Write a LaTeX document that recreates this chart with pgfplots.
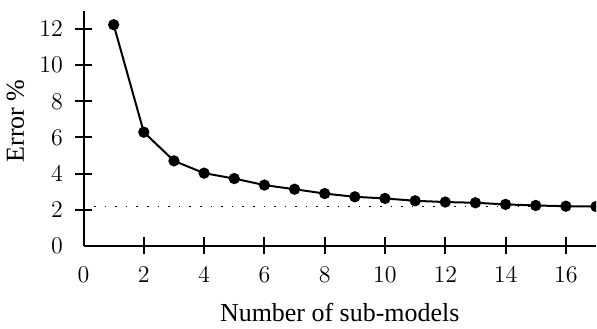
\documentclass[border=0pt]{standalone}
\usepackage{fontspec}
\setmainfont{Liberation Serif}
\usepackage{pgfplots}
\pgfplotsset{compat=1.18}
\begin{document}
\begin{tikzpicture}
\begin{axis}[
  width=256.5pt, height=117.5pt, scale only axis,
  xmin=0, xmax=17, ymin=0, ymax=13,
  axis lines=left, axis line style={-, line width=1pt},
  xtick={2,4,...,16}, ytick={2,4,...,12},
  extra x ticks={0}, extra y ticks={0},
  extra tick style={major tick style={draw=none}},
  tick align=center, major tick length=8.5pt,
  tick style={line width=1pt, black},
  ticklabel style={font=\fontsize{13}{15}\selectfont},
  xticklabel shift=2.7pt, yticklabel shift=2.6pt,
  label style={font=\fontsize{13}{15}\selectfont},
  xlabel={Number of sub-models}, ylabel={Error \%},
  xlabel style={at={([yshift=-37.9pt]axis description cs:0.5,0)}, anchor=base, inner ysep=3.6pt},
  ylabel style={at={([xshift=-42pt]axis description cs:0,0.532)}, anchor=north, rotate=0},
  clip marker paths=true,
]
\addplot[black, dash pattern=on 0.8pt off 4.5pt, line width=0.7pt] coordinates {(0,2.17) (17,2.17)};
\addplot[black, line width=1pt, mark=*, mark size=2.3pt] coordinates {
(1,12.24) (2,6.29) (3,4.70) (4,4.02) (5,3.72) (6,3.36) (7,3.13) (8,2.89) (9,2.71)
(10,2.62) (11,2.49) (12,2.42) (13,2.38) (14,2.29) (15,2.23) (16,2.19) (17,2.17)};
\end{axis}
\path (current axis.north west) ++(0,5.5pt);
\end{tikzpicture}
\end{document}
